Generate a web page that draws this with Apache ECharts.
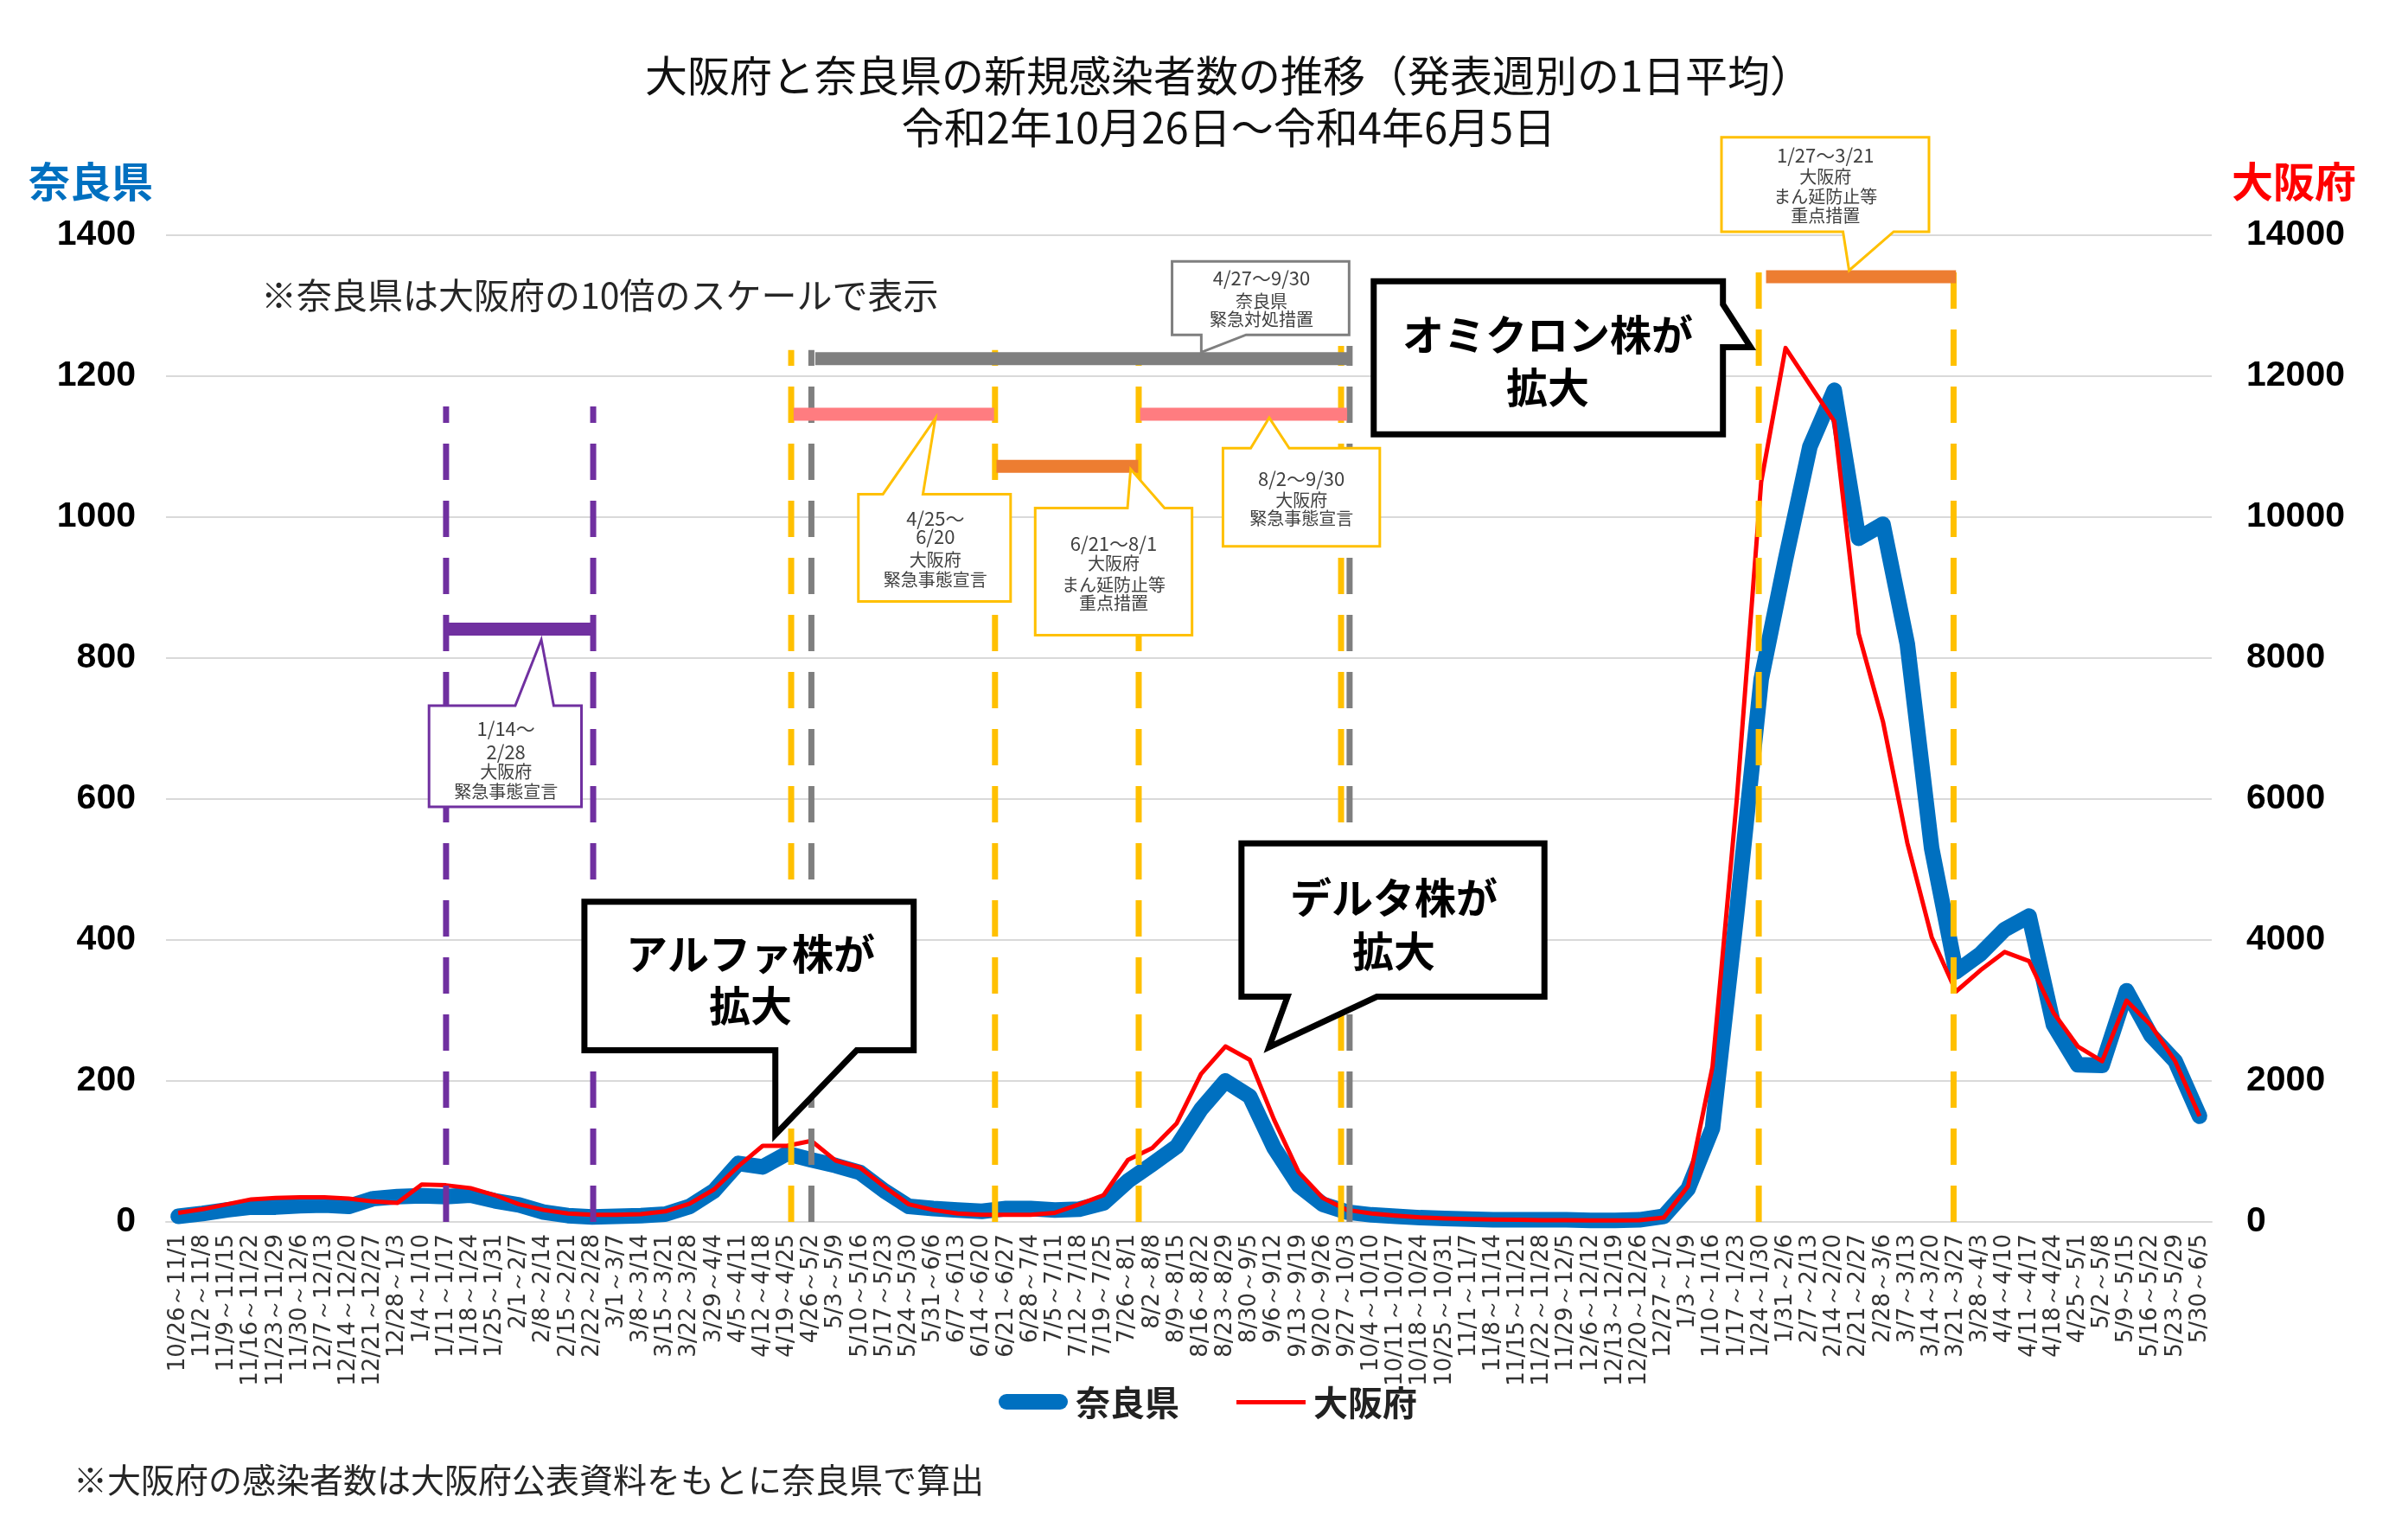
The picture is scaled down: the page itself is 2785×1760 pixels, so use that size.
<!DOCTYPE html>
<html>
<head>
<meta charset="utf-8">
<script src="https://cdn.jsdelivr.net/npm/echarts@6/dist/echarts.min.js"></script>
<style>html,body{margin:0;padding:0;background:#fff}#c{width:2785px;height:1760px}</style>
</head>
<body>
<div id="c"></div>
<script>
// ---------- data ----------
const categories = [
'10/26～11/1','11/2～11/8','11/9～11/15','11/16～11/22','11/23～11/29','11/30～12/6','12/7～12/13','12/14～12/20','12/21～12/27','12/28～1/3',
'1/4～1/10','1/11～1/17','1/18～1/24','1/25～1/31','2/1～2/7','2/8～2/14','2/15～2/21','2/22～2/28','3/1～3/7','3/8～3/14',
'3/15～3/21','3/22～3/28','3/29～4/4','4/5～4/11','4/12～4/18','4/19～4/25','4/26～5/2','5/3～5/9','5/10～5/16','5/17～5/23',
'5/24～5/30','5/31～6/6','6/7～6/13','6/14～6/20','6/21～6/27','6/28～7/4','7/5～7/11','7/12～7/18','7/19～7/25','7/26～8/1',
'8/2～8/8','8/9～8/15','8/16～8/22','8/23～8/29','8/30～9/5','9/6～9/12','9/13～9/19','9/20～9/26','9/27～10/3','10/4～10/10',
'10/11～10/17','10/18～10/24','10/25～10/31','11/1～11/7','11/8～11/14','11/15～11/21','11/22～11/28','11/29～12/5','12/6～12/12','12/13～12/19',
'12/20～12/26','12/27～1/2','1/3～1/9','1/10～1/16','1/17～1/23','1/24～1/30','1/31～2/6','2/7～2/13','2/14～2/20','2/21～2/27',
'2/28～3/6','3/7～3/13','3/14～3/20','3/21～3/27','3/28～4/3','4/4～4/10','4/11～4/17','4/18～4/24','4/25～5/1','5/2～5/8',
'5/9～5/15','5/16～5/22','5/23～5/29','5/30～6/5'
];
const naraValues = [
 8,12,17,21,21,23,24,22,33,36,
 37,36,38,30,24,14,9,7,8,9,
 11,22,44,83,78,97,88,80,70,44,
 22,19,17,15,19,19,17,18,27,58,
 82,107,160,200,178,105,52,25,14,10,
 8,6,5,4,3,3,3,3,2,2,
 3,8,47,133,440,770,940,1100,1180,970,
 990,820,530,355,380,415,434,280,223,222,
 328,265,228,150
];
const osakaValues = [
 130,180,250,320,340,350,350,330,290,270,
 530,520,480,380,250,170,120,100,100,110,
 150,260,460,790,1080,1080,1150,870,770,500,
 250,170,120,100,100,100,130,250,380,880,
 1050,1400,2100,2490,2300,1450,710,340,170,120,
 90,65,50,40,35,30,25,25,20,20,
 25,60,510,2200,6000,10500,12400,11880,11360,8350,
 7100,5380,4040,3270,3570,3830,3700,2970,2490,2280,
 3140,2790,2280,1500
];
const naraAxis = {min: 0, max: 1400, interval: 200};
const osakaAxis = {min: 0, max: 14000, interval: 2000};
const seriesNames = ['奈良県', '大阪府'];

// ---------- annotation layout (x in category units, y in 奈良県 units) ----------
const COL = {purple:'#7030A0', yellow:'#FFC000', gray:'#7F7F7F', pink:'#FF7C80', orange:'#ED7D31'};
const vLines = [
 [11.5,1157,'purple'],[17.54,1157,'purple'],
 [25.67,1237,'yellow'],[26.5,1237,'gray'],
 [34.04,1237,'yellow'],[39.94,1228,'yellow'],
 [48.25,1243,'yellow'],[48.6,1243,'gray'],
 [65.4,1359,'yellow'],[73.4,1367,'yellow']
];
const hBars = [
 [11.5,17.54,841,'purple'],
 [26.66,48.64,1225,'gray'],
 [25.77,34.0,1146,'pink'],
 [40.0,48.5,1146,'pink'],
 [34.1,39.92,1072,'orange'],
 [65.7,73.5,1341,'orange']
];
const smallCallouts = [
 {color:'purple', box:[10.80,17.06,732.6,589], ptr:'top', base:[14.34,15.92], tip:[15.41,826], cx:13.96,
  lines:[['1/14～',700,22],['2/28',667,22],['大阪府',639,20],['緊急事態宣言',611,20]]},
 {color:'yellow', box:[28.43,34.68,1032.6,880.4], ptr:'top', base:[29.44,31.08], tip:[31.59,1140], cx:31.59,
  lines:[['4/25～',997.8,22],['6/20',971.7,22],['大阪府',939.1,20],['緊急事態宣言',910.9,20]]},
 {color:'yellow', box:[35.69,42.13,1013,832.6], ptr:'top', base:[39.48,41.0], tip:[39.61,1068], cx:38.91,
  lines:[['6/21～8/1',963,22],['大阪府',934.8,20],['まん延防止等',904.3,20],['重点措置',878.3,20]]},
 {color:'gray', box:[41.31,48.58,1363,1258.7], ptr:'bottom', base:[42.51,44.35], tip:[42.51,1234], cx:44.98,
  lines:[['4/27～9/30',1339,22],['奈良県',1306.5,20],['緊急対処措置',1280.4,20]]},
 {color:'yellow', box:[43.4,49.84,1097.8,958.7], ptr:'top', base:[44.54,46.12], tip:[45.3,1141], cx:46.62,
  lines:[['8/2～9/30',1054,22],['大阪府',1024,20],['緊急事態宣言',997.8,20]]},
 {color:'yellow', box:[63.87,72.39,1539,1405], ptr:'bottom', base:[68.86,70.94], tip:[69.11,1350], cx:68.14,
  lines:[['1/27～3/21',1513,22],['大阪府',1482.6,20],['まん延防止等',1454.3,20],['重点措置',1428.3,20]]}
];
const bigCallouts = [
 {pts:[[17.18,454.3],[30.7,454.3],[30.7,243.5],[28.36,243.5],[25.02,123.9],[25.02,243.5],[17.18,243.5]],
  cx:24.0, lines:[['アルファ株が',380.4],['拡大',306.5]]},
 {pts:[[44.16,537],[56.6,537],[56.6,319.6],[49.72,319.6],[45.29,247.8],[46.05,319.6],[44.16,319.6]],
  cx:50.41, lines:[['デルタ株が',460.9],['拡大',384.8]]},
 {pts:[[49.59,1334.8],[63.93,1334.8],[63.93,1302],[65.07,1241],[63.93,1241],[63.93,1117.4],[49.59,1117.4]],
  cx:56.73, lines:[['オミクロン株が',1258.7],['拡大',1184.8]]}
];

const CJK = '"Noto Sans CJK JP", "Noto Sans", sans-serif';
const NUM = '"Liberation Sans", Arial, sans-serif';

function renderAnno(params, api) {
  const ch = [];
  const P = (x, y) => api.coord([x, y]);
  vLines.forEach(([x, top, c]) => {
    const a = P(x, 0), b = P(x, top);
    ch.push({type:'line', z2:1, shape:{x1:a[0], y1:a[1], x2:b[0], y2:b[1]},
      style:{stroke:COL[c], lineWidth:7, lineDash:[42,24]}});
  });
  hBars.forEach(([x1, x2, y, c]) => {
    const a = P(x1, y), b = P(x2, y);
    ch.push({type:'line', z2:2, shape:{x1:a[0], y1:a[1], x2:b[0], y2:b[1]},
      style:{stroke:COL[c], lineWidth:15}});
  });
  smallCallouts.forEach(sc => {
    const [x1, x2, yT, yB] = sc.box;
    let pts;
    if (sc.ptr === 'top') pts = [[x1,yT],[sc.base[0],yT],sc.tip,[sc.base[1],yT],[x2,yT],[x2,yB],[x1,yB]];
    else pts = [[x1,yT],[x2,yT],[x2,yB],[sc.base[1],yB],sc.tip,[sc.base[0],yB],[x1,yB]];
    ch.push({type:'polygon', z2:3, shape:{points: pts.map(p => P(p[0], p[1]))},
      style:{fill:'#fff', stroke:COL[sc.color], lineWidth:3, lineJoin:'miter'}});
    sc.lines.forEach(([t, y, fs]) => {
      const p = P(sc.cx, y);
      ch.push({type:'text', z2:4, x:p[0], y:p[1],
        style:{text:t, fontSize:fs, fontFamily:CJK, fill:'#404040', align:'center', verticalAlign:'middle'}});
    });
  });
  bigCallouts.forEach(bc => {
    ch.push({type:'polygon', z2:5, shape:{points: bc.pts.map(p => P(p[0], p[1]))},
      style:{fill:'#fff', stroke:'#000', lineWidth:7, lineJoin:'miter'}});
    bc.lines.forEach(([t, y]) => {
      const p = P(bc.cx, y);
      ch.push({type:'text', z2:6, x:p[0], y:p[1],
        style:{text:t, fontSize:48, fontWeight:'bold', fontFamily:CJK, fill:'#000', align:'center', verticalAlign:'middle'}});
    });
  });
  return {type:'group', children: ch};
}

const chart = echarts.init(document.getElementById('c'), null, {renderer:'canvas', width:2785, height:1760});
chart.setOption({
  backgroundColor:'#fff',
  animation:false,
  title:{
    text:'大阪府と奈良県の新規感染者数の推移（発表週別の1日平均）\n令和2年10月26日～令和4年6月5日',
    left:1416, top:52, textAlign:'center',
    textStyle:{fontSize:49, lineHeight:60, fontWeight:'normal', fontFamily:CJK, color:'#111'}
  },
  grid:{left:192, right:227, top:272, bottom:347},
  xAxis:[
    {type:'category', data:categories, boundaryGap:true,
     axisLine:{lineStyle:{color:'#D9D9D9', width:2}}, axisTick:{show:false},
     axisLabel:{rotate:90, interval:0, fontSize:26, fontFamily:'"DejaVu Sans", sans-serif', color:'#333', margin:14}},
    {type:'value', min:0, max:categories.length, show:false}
  ],
  yAxis:[
    {type:'value', min:naraAxis.min, max:naraAxis.max, interval:naraAxis.interval, position:'left',
     axisLine:{show:false}, axisTick:{show:false},
     axisLabel:{fontSize:41, fontWeight:'bold', fontFamily:NUM, color:'#000', margin:35, formatter: v => String(v)},
     splitLine:{lineStyle:{color:'#D9D9D9', width:2}}},
    {type:'value', min:osakaAxis.min, max:osakaAxis.max, interval:osakaAxis.interval, position:'right',
     axisLine:{show:false}, axisTick:{show:false}, splitLine:{show:false},
     axisLabel:{fontSize:41, fontWeight:'bold', fontFamily:NUM, color:'#000', margin:40, formatter: v => String(v)}}
  ],
  graphic:[
    {type:'text', x:105, y:210, style:{text:'奈良県', fontSize:48, fontWeight:'bold', fontFamily:CJK, fill:'#0070C0', align:'center', verticalAlign:'middle'}},
    {type:'text', x:2653, y:210, style:{text:'大阪府', fontSize:48, fontWeight:'bold', fontFamily:CJK, fill:'#FF0000', align:'center', verticalAlign:'middle'}},
    {type:'text', x:302, y:341, style:{text:'※奈良県は大阪府の10倍のスケールで表示', fontSize:41, fontFamily:CJK, fill:'#262626', align:'left', verticalAlign:'middle'}},
    {type:'text', x:85, y:1711, style:{text:'※大阪府の感染者数は大阪府公表資料をもとに奈良県で算出', fontSize:39, fontFamily:CJK, fill:'#262626', align:'left', verticalAlign:'middle'}},
    // legend
    {type:'rect', shape:{x:1155, y:1612, width:80, height:18, r:9}, style:{fill:'#0070C0'}},
    {type:'text', x:1244, y:1622, style:{text:seriesNames[0], fontSize:40, fontWeight:'bold', fontFamily:CJK, fill:'#222', align:'left', verticalAlign:'middle'}},
    {type:'rect', shape:{x:1430, y:1619, width:80, height:5}, style:{fill:'#FF0000'}},
    {type:'text', x:1519, y:1622, style:{text:seriesNames[1], fontSize:40, fontWeight:'bold', fontFamily:CJK, fill:'#222', align:'left', verticalAlign:'middle'}}
  ],
  series:[
    {name:seriesNames[0], type:'line', xAxisIndex:0, yAxisIndex:0, data:naraValues, symbol:'none', z:2,
     lineStyle:{color:'#0070C0', width:18, join:'round', cap:'round'}, itemStyle:{color:'#0070C0'}},
    {name:seriesNames[1], type:'line', xAxisIndex:0, yAxisIndex:1, data:osakaValues, symbol:'none', z:3,
     lineStyle:{color:'#FF0000', width:5, join:'round'}, itemStyle:{color:'#FF0000'}},
    {type:'custom', xAxisIndex:1, yAxisIndex:0, data:[[0,0]], renderItem:renderAnno, clip:false, silent:true, z:4}
  ]
});
</script>
</body>
</html>
